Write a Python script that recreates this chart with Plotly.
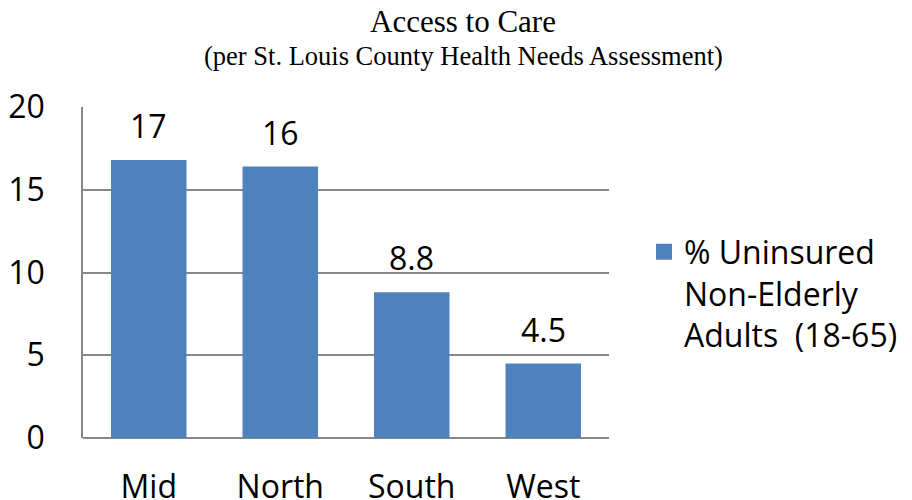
import plotly.graph_objects as go

categories = ["Mid", "North", "South", "West"]
values = [16.8, 16.4, 8.8, 4.5]
value_labels = ["17", "16", "8.8", "4.5"]
series_name = "% Uninsured<br>Non-Elderly<br>Adults  (18-65)"
y_ticks = [0, 5, 10, 15, 20]
title_text = "Access to Care"
subtitle_text = "(per St. Louis County Health Needs Assessment)"

BAR = "#4F81BD"
GRID = "#878787"
SANS = "Open Sans"
SERIF = "Liberation Serif"

# page body has an 8px default margin; figure is sized/positioned to compensate
fig = go.Figure()
fig.add_trace(go.Bar(
    x=categories, y=values, name=series_name,
    marker=dict(color=BAR, line=dict(width=0)),
    showlegend=False,
))
# legend entry (larger square key than the bar default)
fig.add_trace(go.Scatter(
    x=[None], y=[None], mode="markers", name=series_name,
    marker=dict(symbol="square", size=16, color=BAR, line=dict(width=0)),
    showlegend=True, hoverinfo="skip",
))

for c, v, t in zip(categories, values, value_labels):
    fig.add_annotation(x=c, y=v, text=t, showarrow=False, yanchor="bottom",
                       yshift=11, font=dict(family=SANS, size=32, color="#000"))

fig.add_annotation(xref="paper", yref="paper", x=0.7226, y=1.2589,
                   xanchor="center", yanchor="middle", showarrow=False,
                   text=title_text, font=dict(family=SERIF, size=31, color="#000"))
fig.add_annotation(xref="paper", yref="paper", x=0.7226, y=1.1553,
                   xanchor="center", yanchor="middle", showarrow=False,
                   text=subtitle_text, font=dict(family=SERIF, size=26.5, color="#000"))

fig.update_layout(
    width=904, height=492,
    margin=dict(l=74.7, r=303, t=99.3, b=61.5, pad=0, autoexpand=False),
    paper_bgcolor="white", plot_bgcolor="white",
    bargap=0.426,
    font=dict(family=SANS, color="#000"),
    legend=dict(x=1.0665, y=0.645, xanchor="left", yanchor="top",
                valign="top", itemsizing="trace",
                font=dict(family=SANS, size=32, color="#000"),
                bgcolor="rgba(0,0,0,0)", tracegroupgap=0),
    xaxis=dict(showgrid=False, showline=False, ticks="", zeroline=False,
               automargin=False,
               tickfont=dict(family=SANS, size=32, color="#000"),
               ticklabelstandoff=27),
    yaxis=dict(range=[0, 20], tickvals=y_ticks, showgrid=True, gridcolor=GRID,
               gridwidth=1.5, zeroline=True, zerolinecolor=GRID, zerolinewidth=1.5,
               showline=True, linecolor=GRID, linewidth=1.5, ticks="",
               automargin=False,
               tickfont=dict(family=SANS, size=32, color="#000"),
               ticklabelstandoff=30),
)

fig.write_html("out.html")
